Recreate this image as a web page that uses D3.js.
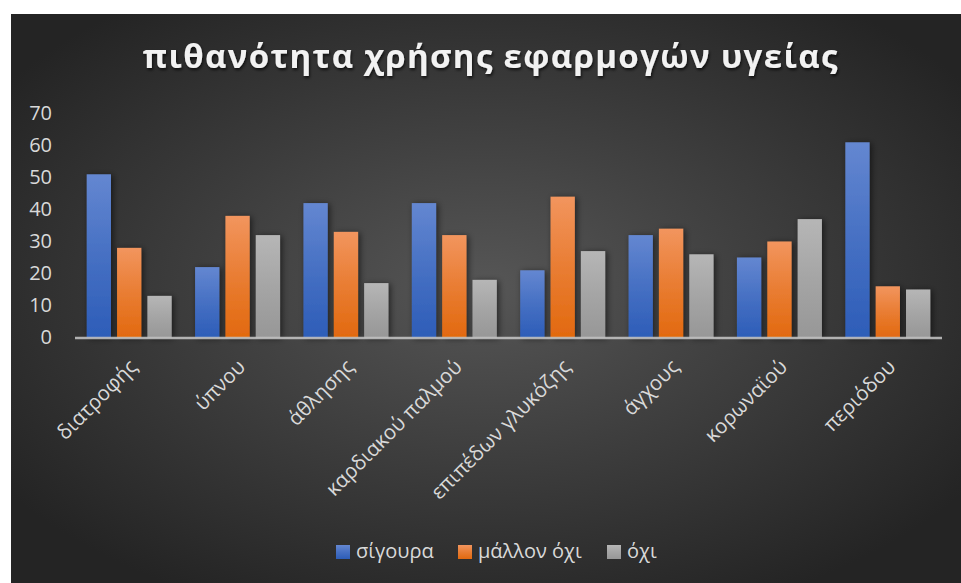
<!DOCTYPE html>
<html><head><meta charset="utf-8">
<script src="https://cdn.jsdelivr.net/npm/d3@7/dist/d3.min.js"></script>
<style>html,body{margin:0;padding:0;background:#fff;}svg{display:block;}</style>
</head><body><div id="chart"></div>
<script>
const title = "πιθανότητα χρήσης εφαρμογών υγείας";
const categories = ["διατροφής","ύπνου","άθλησης","καρδιακού παλμού","επιπέδων γλυκόζης","άγχους","κορωναϊού","περιόδου"];
const seriesNames = ["σίγουρα","μάλλον όχι","όχι"];
const sigoura = [51,22,42,42,21,32,25,61];
const mallonOxi = [28,38,33,32,44,34,30,16];
const oxi = [13,32,17,18,27,26,37,15];
const yTicks = [0,10,20,30,40,50,60,70];

const W = 961, H = 583;
const svg = d3.select("#chart").append("svg").attr("width", W).attr("height", H);
const defs = svg.append("defs");
const bg = defs.append("radialGradient").attr("id","bg").attr("cx","50%").attr("cy","48%").attr("r","62%");
bg.append("stop").attr("offset","0%").attr("stop-color","#565656");
bg.append("stop").attr("offset","100%").attr("stop-color","#242424");
const grads = [["gBlue","#6487d1","#2d5db8"],["gOrange","#f2955e","#e2690f"],["gGray","#b6b6b6","#979797"]];
grads.forEach(([id,a,b])=>{
  const g = defs.append("linearGradient").attr("id",id).attr("x1",0).attr("y1",0).attr("x2",0).attr("y2",1);
  g.append("stop").attr("offset","0%").attr("stop-color",a);
  g.append("stop").attr("offset","50%").attr("stop-color",d3.interpolateRgb(a,b)(0.55));
  g.append("stop").attr("offset","100%").attr("stop-color",b);
});
const sh = defs.append("filter").attr("id","sh").attr("x","-30%").attr("y","-10%").attr("width","180%").attr("height","130%");
sh.append("feDropShadow").attr("dx",2).attr("dy",1).attr("stdDeviation",3).attr("flood-color","#000").attr("flood-opacity",0.55);
const tsh = defs.append("filter").attr("id","tsh").attr("x","-5%").attr("y","-30%").attr("width","110%").attr("height","160%");
tsh.append("feDropShadow").attr("dx",1).attr("dy",2).attr("stdDeviation",1.5).attr("flood-color","#000").attr("flood-opacity",0.7);

svg.append("rect").attr("x",11).attr("y",14).attr("width",W-11).attr("height",H-14).attr("fill","url(#bg)");

// title
const t = svg.append("text").attr("x",490).attr("y",68).attr("text-anchor","middle")
  .attr("font-family","Open Sans").attr("font-weight","bold").attr("font-size",33)
  .attr("fill","#f2f2f2").attr("filter","url(#tsh)").text(title);
const nat = t.node().getComputedTextLength();
const ls = (696 - nat) / title.length;
t.attr("letter-spacing", ls).attr("x", 490 + ls/2);

const x0 = d3.scaleBand().domain(categories).range([75, 942]).paddingInner(0.216).paddingOuter(0.108);
const x1 = d3.scaleBand().domain(seriesNames).range([0, x0.bandwidth()]).paddingInner(0.2);
const y = d3.scaleLinear().domain([0,70]).range([337.5, 113.5]);

const series = [sigoura, mallonOxi, oxi];
const fills = ["url(#gBlue)","url(#gOrange)","url(#gGray)"];

const g = svg.append("g");
categories.forEach((c,i)=>{
  series.forEach((s,j)=>{
    g.append("rect").attr("x", x0(c)+x1(seriesNames[j])).attr("y", y(s[i]))
      .attr("width", x1.bandwidth()).attr("height", y(0)-y(s[i]))
      .attr("fill", fills[j]).attr("filter","url(#sh)");
  });
});

// axis line
svg.append("line").attr("x1",75).attr("x2",942).attr("y1",y(0)+0.5).attr("y2",y(0)+0.5)
  .attr("stroke","#c8c8c8").attr("stroke-width",2.5).attr("stroke-opacity",0.85);

// y axis
const yAxis = d3.axisLeft(y).tickValues(yTicks).tickSize(0).tickPadding(0);
const ya = svg.append("g").attr("transform","translate(52,0)").call(yAxis);
ya.select(".domain").remove();
ya.selectAll("text").attr("font-family","Open Sans").attr("font-size",20).attr("fill","#d9d9d9");

// x labels
const xs = svg.append("g");
categories.forEach(c=>{
  const cx = x0(c) + x0.bandwidth()/2;
  xs.append("text").attr("transform",`translate(${cx+4},363) rotate(-45)`)
    .attr("text-anchor","end").attr("dy","0.35em")
    .attr("font-family","Open Sans").attr("font-size",20.5).attr("fill","#d9d9d9").text(c);
});

// legend
const legX = [336, 458, 607];
const cols = ["url(#gBlue)","url(#gOrange)","url(#gGray)"];
seriesNames.forEach((n,j)=>{
  svg.append("rect").attr("x",legX[j]).attr("y",545).attr("width",14).attr("height",14).attr("fill",cols[j]);
  svg.append("text").attr("x",legX[j]+20).attr("y",558).attr("font-family","Open Sans").attr("font-size",20)
    .attr("fill","#d9d9d9").text(n);
});
</script></body></html>
